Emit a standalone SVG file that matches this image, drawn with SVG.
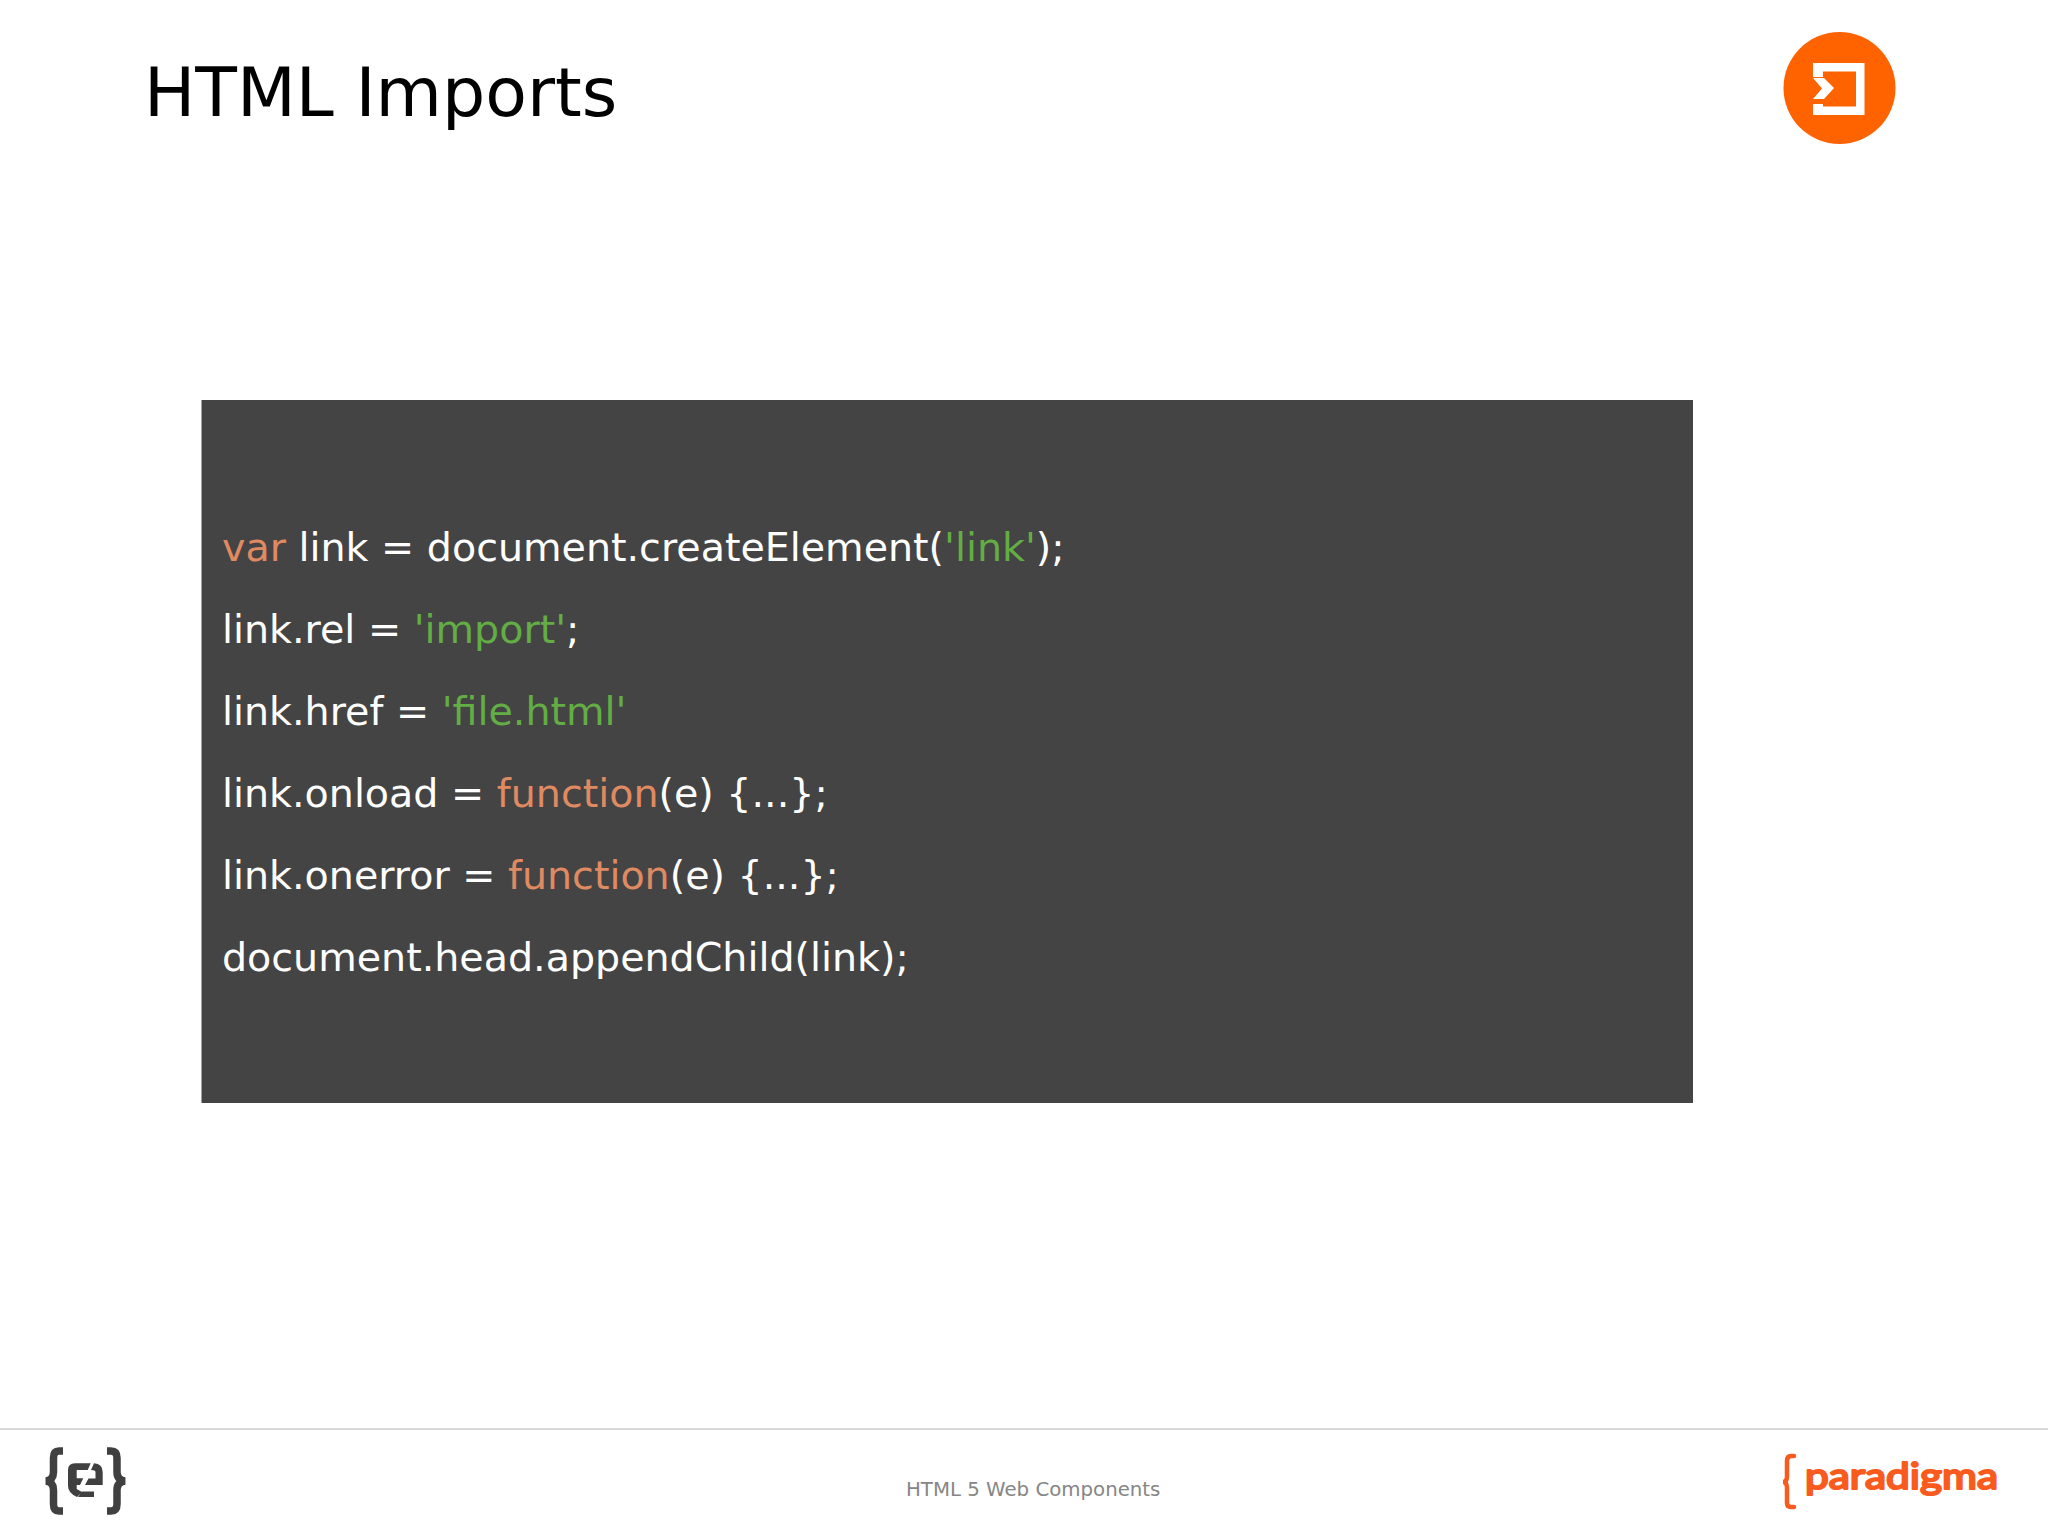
<svg xmlns="http://www.w3.org/2000/svg" width="2048" height="1536" viewBox="0 0 2048 1536">
<style>
text{font-family:"DejaVu Sans",sans-serif}
.code{font-size:39.6px;fill:#fff}
.k{fill:#e08a62}
.s{fill:#62ad44}
</style>
<rect width="2048" height="1536" fill="#fff"/>
<text id="title" x="144" y="116" font-size="68.200" fill="#000">HTML Imports</text>
<g id="badge">
<circle cx="1839.500" cy="88" r="56" fill="#ff6300"/>
<path fill="#fff" fill-rule="evenodd" d="M1813 63H1864.500V115H1813V104H1823V106.500H1856V71.500H1823V77H1813Z"/>
<path fill="#fff" d="M1813 78H1824L1834 88L1824 99H1813L1822 88.500Z"/>
</g>
<g id="code-block">
<rect x="201.500" y="400" width="1491.500" height="703" fill="#454445"/>
<text class="code" x="222" y="560.500">
<tspan class="k">var</tspan> link = document.createElement(<tspan class="s">'link'</tspan>);</text>
<text class="code" x="222" y="642.500">link.rel = <tspan class="s">'import'</tspan>;</text>
<text class="code" x="222" y="724.500">link.href = <tspan class="s">'file.html'</tspan></text>
<text class="code" x="222" y="806.500">link.onload = <tspan class="k">function</tspan>(e) {...};</text>
<text class="code" x="222" y="888.500">link.onerror = <tspan class="k">function</tspan>(e) {...};</text>
<text class="code" x="222" y="970.500">document.head.appendChild(link);</text>
</g>
<g id="footer">
<rect x="0" y="1428" width="2048" height="2" fill="#d9d9d9"/>
<text x="906" y="1496" font-size="19.750" fill="#868686">HTML 5 Web Components</text>
</g>
<g id="logo-left">
<path fill="none" stroke="#404040" stroke-width="7.500" d="M63 1451H59Q53.500 1451 53.500 1458V1472Q53.500 1480 46 1481Q53.500 1482 53.500 1490V1504Q53.500 1511 59 1511H63"/>
<path fill="none" stroke="#404040" stroke-width="7.500" d="M107 1451H111Q117 1451 117 1458V1472Q117 1480 125 1481Q117 1482 117 1490V1504Q117 1511 111 1511H107"/>
<path fill="#404040" d="M75 1463.300H90.700L87.700 1470H76.700V1478.300H83.300L80 1485H76.700V1489L82 1492L77 1497Q68 1493 68 1486V1470Q68 1463.300 75 1463.300ZM94 1463.300Q102.700 1464 102.700 1472V1485H85L88.500 1478.500H95.500V1472Q95.500 1470 91 1470ZM82 1491.500H94V1497H78Z"/>
</g>
<g id="logo-right">
<path fill="none" stroke="#f95a1e" stroke-width="4.500" stroke-linecap="round" d="M1794 1456H1791Q1787 1456 1787 1461V1476Q1787 1482 1783 1482Q1787 1482 1787 1488V1503Q1787 1507 1791 1507H1794"/>
<text x="1805" y="1489" font-size="37" fill="#f95a1e" stroke="#f95a1e" stroke-width="2.200" stroke-linejoin="round" style="font-family:'Lato',sans-serif" textLength="193" lengthAdjust="spacingAndGlyphs">paradigma</text>
</g>
</svg>
